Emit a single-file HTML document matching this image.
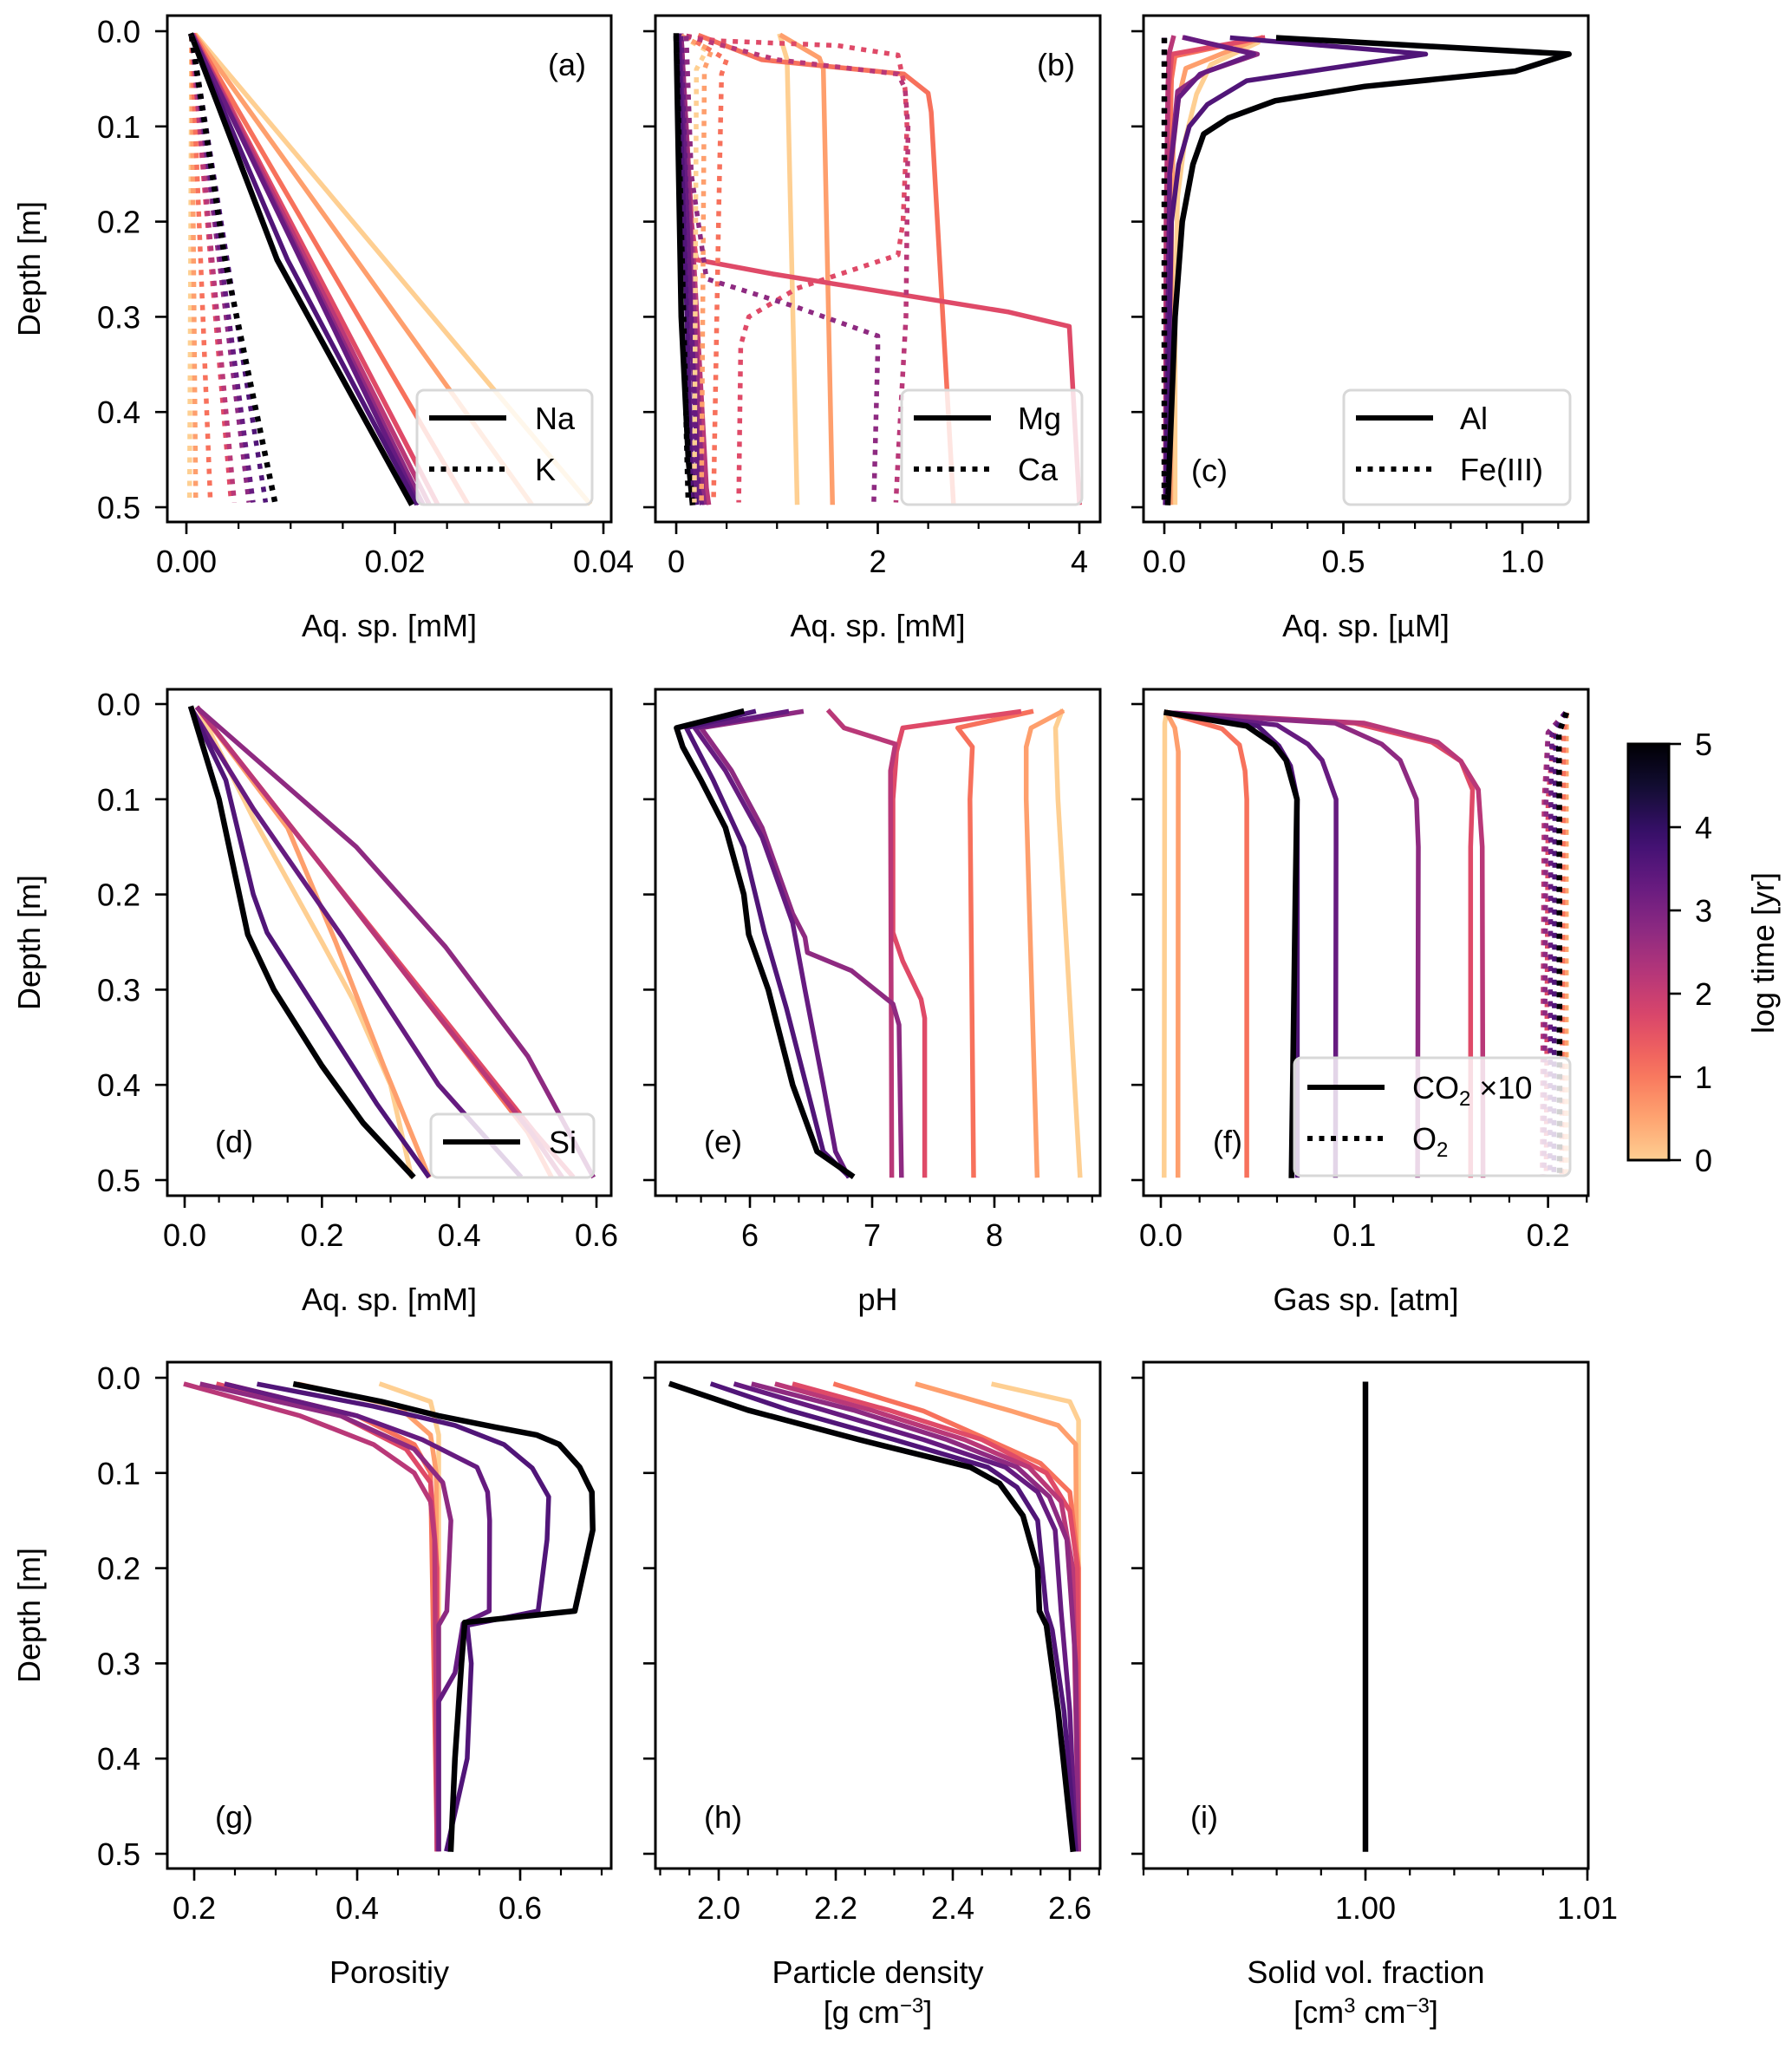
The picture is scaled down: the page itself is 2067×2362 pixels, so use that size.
<!DOCTYPE html>
<html><head><meta charset="utf-8"><style>
html,body{margin:0;padding:0;background:#fff}
svg{display:block;font-family:"Liberation Sans",Arial,sans-serif}
</style></head><body>
<svg id="fig" width="2067" height="2362" viewBox="0 0 2067 2362" xmlns="http://www.w3.org/2000/svg"></svg>
<script>
// ---------- data ----------
const logTimes = [0, 0.55, 1.1, 1.65, 2.2, 2.75, 3.3, 3.6, 5];
// each curve: list of [depth, value]
const naSeries = [
 [[0.005,0.0010],[0.495,0.0386]],
 [[0.005,0.0009],[0.495,0.0330]],
 [[0.005,0.0008],[0.495,0.0269]],
 [[0.005,0.0007],[0.495,0.0240]],
 [[0.005,0.0007],[0.495,0.0232]],
 [[0.005,0.0006],[0.495,0.0226]],
 [[0.005,0.0006],[0.495,0.0222]],
 [[0.005,0.0005],[0.24,0.0097],[0.495,0.0220]],
 [[0.005,0.0005],[0.24,0.0087],[0.495,0.0215]]
];
const kSeries = [
 [[0.005,0.0005],[0.495,0.0003]],
 [[0.005,0.0005],[0.495,0.0009]],
 [[0.005,0.0005],[0.495,0.0023]],
 [[0.005,0.0005],[0.495,0.0043]],
 [[0.005,0.0005],[0.495,0.0046]],
 [[0.005,0.0005],[0.495,0.0060]],
 [[0.005,0.0005],[0.495,0.0064]],
 [[0.005,0.0005],[0.495,0.0076]],
 [[0.005,0.0005],[0.24,0.0037],[0.495,0.0085]]
];
const mgSeries = [
 [[0.005,1.03],[0.03,1.1],[0.495,1.2]],
 [[0.005,1.05],[0.028,1.42],[0.04,1.46],[0.495,1.55]],
 [[0.005,0.24],[0.03,0.85],[0.045,2.26],[0.065,2.5],[0.085,2.53],[0.495,2.75]],
 [[0.005,0.05],[0.2,0.15],[0.24,0.2],[0.255,0.96],[0.295,3.3],[0.31,3.9],[0.495,4.0]],
 [[0.005,0.05],[0.48,0.3],[0.495,0.32]],
 [[0.005,0.05],[0.48,0.26],[0.495,0.28]],
 [[0.005,0.03],[0.48,0.22],[0.495,0.25]],
 [[0.005,0.02],[0.45,0.15],[0.495,0.2]],
 [[0.005,0.0],[0.3,0.05],[0.45,0.12],[0.495,0.16]]
];
const caSeries = [
 [[0.005,0.05],[0.02,0.3],[0.04,0.2],[0.495,0.18]],
 [[0.005,0.05],[0.02,0.35],[0.04,0.28],[0.495,0.25]],
 [[0.005,0.1],[0.03,0.5],[0.045,0.45],[0.2,0.42],[0.495,0.37]],
 [[0.005,0.1],[0.01,0.4],[0.015,1.6],[0.025,2.2],[0.06,2.27],[0.1,2.29],[0.2,2.25],[0.235,2.2],[0.27,1.2],[0.3,0.72],[0.33,0.64],[0.495,0.62]],
 [[0.005,0.1],[0.03,1.0],[0.045,2.2],[0.06,2.27],[0.1,2.3],[0.3,2.28],[0.45,2.2],[0.495,2.18]],
 [[0.005,0.1],[0.15,0.15],[0.26,0.3],[0.29,1.2],[0.32,2.0],[0.335,2.0],[0.495,1.96]],
 [[0.005,0.05],[0.495,0.2]],
 [[0.005,0.02],[0.495,0.15]],
 [[0.005,0.0],[0.495,0.12]]
];
const alSeries = [
 [[0.012,0.26],[0.035,0.13],[0.066,0.09],[0.116,0.057],[0.174,0.037],[0.3,0.03],[0.495,0.03]],
 [[0.007,0.27],[0.039,0.06],[0.07,0.04],[0.12,0.025],[0.2,0.02],[0.495,0.018]],
 [[0.007,0.27],[0.026,0.03],[0.05,0.02],[0.2,0.01],[0.495,0.01]],
 [[0.007,0.275],[0.024,0.021],[0.06,0.012],[0.2,0.005],[0.495,0.004]],
 [[0.007,0.025],[0.024,0.013],[0.06,0.01],[0.2,0.005],[0.495,0.003]],
 [[0.007,0.057],[0.024,0.26],[0.043,0.114],[0.063,0.037],[0.15,0.015],[0.495,0.003]],
 [[0.007,0.06],[0.024,0.25],[0.045,0.1],[0.07,0.04],[0.15,0.015],[0.495,0.003]],
 [[0.007,0.19],[0.024,0.73],[0.052,0.23],[0.077,0.12],[0.1,0.07],[0.14,0.04],[0.2,0.02],[0.495,0.005]],
 [[0.007,0.32],[0.024,1.13],[0.042,0.98],[0.058,0.56],[0.073,0.31],[0.091,0.18],[0.108,0.11],[0.14,0.08],[0.2,0.05],[0.3,0.03],[0.495,0.01]]
];
const feSeries = [
 [[0.007,0.0],[0.495,0.0]],[[0.007,0.0],[0.495,0.0]],[[0.007,0.0],[0.495,0.0]],
 [[0.007,0.0],[0.495,0.0]],[[0.007,0.0],[0.495,0.0]],[[0.007,0.0],[0.495,0.0]],
 [[0.007,0.0],[0.495,0.0]],[[0.007,0.0],[0.495,0.0]],[[0.007,0.0],[0.495,0.0]]
];
const siSeries = [
 [[0.005,0.02],[0.12,0.1],[0.25,0.2],[0.31,0.245],[0.4,0.3],[0.495,0.33]],
 [[0.005,0.02],[0.13,0.15],[0.25,0.22],[0.38,0.29],[0.495,0.355]],
 [[0.005,0.02],[0.17,0.2],[0.31,0.35],[0.45,0.5],[0.495,0.533]],
 [[0.005,0.02],[0.17,0.2],[0.31,0.355],[0.45,0.51],[0.495,0.564]],
 [[0.005,0.02],[0.17,0.2],[0.31,0.35],[0.45,0.505],[0.495,0.548]],
 [[0.005,0.02],[0.15,0.25],[0.255,0.38],[0.37,0.5],[0.495,0.594]],
 [[0.005,0.01],[0.11,0.1],[0.245,0.23],[0.4,0.37],[0.495,0.488]],
 [[0.005,0.01],[0.08,0.06],[0.2,0.1],[0.24,0.12],[0.33,0.2],[0.42,0.28],[0.495,0.354]],
 [[0.005,0.01],[0.1,0.05],[0.242,0.092],[0.3,0.13],[0.38,0.2],[0.44,0.26],[0.495,0.331]]
];
const phSeries = [
 [[0.008,8.55],[0.025,8.5],[0.1,8.52],[0.495,8.7]],
 [[0.008,8.55],[0.025,8.3],[0.045,8.26],[0.1,8.26],[0.495,8.35]],
 [[0.008,8.3],[0.025,7.7],[0.045,7.82],[0.1,7.8],[0.495,7.83]],
 [[0.008,8.2],[0.025,7.25],[0.05,7.2],[0.1,7.17],[0.24,7.17],[0.27,7.25],[0.31,7.4],[0.33,7.43],[0.495,7.43]],
 [[0.008,6.65],[0.025,6.77],[0.042,7.19],[0.07,7.15],[0.1,7.15],[0.495,7.16]],
 [[0.008,6.42],[0.025,5.6],[0.07,5.85],[0.13,6.1],[0.22,6.35],[0.245,6.45],[0.261,6.47],[0.28,6.83],[0.315,7.17],[0.337,7.22],[0.495,7.24]],
 [[0.008,6.3],[0.025,5.55],[0.07,5.8],[0.14,6.1],[0.23,6.35],[0.3,6.45],[0.4,6.6],[0.47,6.7],[0.495,6.8]],
 [[0.008,6.03],[0.025,5.48],[0.08,5.7],[0.15,5.95],[0.24,6.12],[0.32,6.3],[0.47,6.6],[0.495,6.8]],
 [[0.008,5.93],[0.025,5.4],[0.045,5.45],[0.08,5.6],[0.13,5.8],[0.2,5.95],[0.242,5.99],[0.3,6.15],[0.4,6.35],[0.47,6.55],[0.495,6.83]]
];
const co2Series = [
 [[0.009,0.003],[0.02,0.002],[0.495,0.0017]],
 [[0.009,0.003],[0.025,0.0072],[0.05,0.009],[0.495,0.0088]],
 [[0.009,0.003],[0.026,0.0316],[0.043,0.0406],[0.07,0.0435],[0.1,0.0444],[0.495,0.0444]],
 [[0.009,0.003],[0.02,0.1],[0.04,0.14],[0.06,0.155],[0.09,0.161],[0.15,0.16],[0.495,0.160]],
 [[0.009,0.003],[0.02,0.105],[0.04,0.143],[0.06,0.155],[0.09,0.164],[0.15,0.166],[0.495,0.1664]],
 [[0.009,0.003],[0.02,0.09],[0.042,0.114],[0.059,0.1236],[0.1,0.132],[0.15,0.133],[0.495,0.1326]],
 [[0.009,0.003],[0.022,0.06],[0.042,0.0759],[0.059,0.0833],[0.1,0.0905],[0.15,0.0905],[0.495,0.0902]],
 [[0.009,0.003],[0.023,0.05],[0.044,0.061],[0.065,0.067],[0.1,0.0705],[0.495,0.0705]],
 [[0.009,0.003],[0.023,0.0444],[0.043,0.0586],[0.059,0.0647],[0.1,0.0703],[0.2,0.0695],[0.495,0.0675]]
];
const o2Series = [
 [[0.009,0.2096],[0.495,0.2096]],
 [[0.009,0.2096],[0.03,0.2093],[0.495,0.2090]],
 [[0.009,0.2096],[0.03,0.208],[0.495,0.207]],
 [[0.009,0.209],[0.03,0.203],[0.1,0.2],[0.495,0.199]],
 [[0.009,0.209],[0.03,0.2],[0.1,0.198],[0.495,0.197]],
 [[0.009,0.209],[0.03,0.2],[0.1,0.199],[0.495,0.198]],
 [[0.009,0.209],[0.03,0.202],[0.1,0.2015],[0.495,0.201]],
 [[0.009,0.209],[0.03,0.204],[0.1,0.2035],[0.495,0.203]],
 [[0.009,0.2096],[0.03,0.2056],[0.1,0.2058],[0.495,0.2060]]
];
const porSeries = [
 [[0.007,0.43],[0.025,0.49],[0.06,0.5],[0.495,0.5]],
 [[0.007,0.33],[0.03,0.45],[0.06,0.49],[0.1,0.497],[0.495,0.498]],
 [[0.007,0.24],[0.04,0.4],[0.07,0.47],[0.1,0.49],[0.495,0.498]],
 [[0.007,0.23],[0.04,0.38],[0.075,0.46],[0.11,0.49],[0.2,0.498],[0.495,0.498]],
 [[0.007,0.19],[0.04,0.33],[0.07,0.42],[0.1,0.47],[0.13,0.49],[0.17,0.495],[0.495,0.498]],
 [[0.007,0.21],[0.04,0.38],[0.075,0.47],[0.11,0.505],[0.15,0.515],[0.245,0.51],[0.26,0.5],[0.495,0.5]],
 [[0.007,0.24],[0.04,0.4],[0.065,0.48],[0.094,0.547],[0.12,0.56],[0.15,0.5626],[0.245,0.562],[0.258,0.53],[0.31,0.52],[0.34,0.5],[0.495,0.5]],
 [[0.007,0.28],[0.03,0.42],[0.05,0.52],[0.07,0.58],[0.095,0.615],[0.125,0.635],[0.17,0.633],[0.245,0.622],[0.26,0.535],[0.3,0.54],[0.4,0.535],[0.495,0.51]],
 [[0.007,0.325],[0.025,0.43],[0.04,0.5],[0.052,0.57],[0.06,0.62],[0.07,0.648],[0.094,0.673],[0.12,0.688],[0.16,0.689],[0.245,0.667],[0.257,0.532],[0.3,0.528],[0.4,0.52],[0.495,0.515]]
];
const rhoSeries = [
 [[0.007,2.47],[0.025,2.6],[0.045,2.615],[0.495,2.615]],
 [[0.007,2.34],[0.035,2.5],[0.05,2.58],[0.07,2.61],[0.495,2.615]],
 [[0.007,2.2],[0.035,2.35],[0.065,2.46],[0.09,2.55],[0.12,2.6],[0.2,2.615],[0.495,2.615]],
 [[0.007,2.13],[0.034,2.29],[0.065,2.45],[0.1,2.56],[0.14,2.6],[0.2,2.613],[0.495,2.615]],
 [[0.007,2.1],[0.034,2.26],[0.065,2.42],[0.094,2.53],[0.13,2.585],[0.2,2.605],[0.495,2.615]],
 [[0.007,2.06],[0.034,2.23],[0.065,2.39],[0.094,2.51],[0.125,2.565],[0.17,2.595],[0.3,2.61],[0.495,2.615]],
 [[0.007,2.03],[0.034,2.18],[0.065,2.35],[0.094,2.49],[0.12,2.545],[0.16,2.575],[0.245,2.585],[0.35,2.6],[0.495,2.61]],
 [[0.007,1.99],[0.034,2.12],[0.065,2.3],[0.094,2.46],[0.115,2.51],[0.15,2.545],[0.245,2.56],[0.265,2.57],[0.35,2.59],[0.495,2.61]],
 [[0.007,1.92],[0.034,2.05],[0.065,2.24],[0.094,2.43],[0.111,2.48],[0.145,2.52],[0.2,2.545],[0.245,2.548],[0.26,2.56],[0.35,2.58],[0.495,2.605]]
];
const solidSeries = [[[0.007,1.0],[0.495,1.0]]];
const depthTicks = [0,0.1,0.2,0.3,0.4,0.5];
const depthTickLabels = ["0.0","0.1","0.2","0.3","0.4","0.5"];
const cbarTicks = [0,1,2,3,4,5];

// ---------- layout ----------
const NS="http://www.w3.org/2000/svg";
const svg=document.getElementById('fig');
function el(tag,attrs,parent){const e=document.createElementNS(NS,tag);for(const k in attrs)e.setAttribute(k,attrs[k]);(parent||svg).appendChild(e);return e;}
const magmaStops=[[0,'#000004'],[0.1,'#140e36'],[0.2,'#3b0f70'],[0.3,'#641a80'],[0.4,'#8c2981'],[0.5,'#b73779'],[0.6,'#de4968'],[0.7,'#f7705c'],[0.8,'#fe9f6d'],[0.9,'#fecf92'],[1,'#fcfdbf']];
function hex(h){return [parseInt(h.substr(1,2),16),parseInt(h.substr(3,2),16),parseInt(h.substr(5,2),16)];}
function magma(v){v=Math.max(0,Math.min(1,v));for(let i=0;i<magmaStops.length-1;i++){const a=magmaStops[i],b=magmaStops[i+1];if(v<=b[0]){const f=(v-a[0])/(b[0]-a[0]);const ca=hex(a[1]),cb=hex(b[1]);return 'rgb('+ca.map((c,j)=>Math.round(c+(cb[j]-c)*f)).join(',')+')';}}return '#fcfdbf';}
function tColor(t){return magma(0.9*(1-t/5));}

const colsX=[[193,705],[756,1269],[1319,1832]];
const rowsY=[[18,602],[795,1379],[1571,2155]];
const rowD0=[36,812,1589];
const DPX=1098;
function range(a,b,s){const r=[];for(let v=a;v<=b+s*1e-6;v+=s)r.push(+v.toFixed(6));return r;}

const panels=[
 {id:'a',r:0,c:0,x0:215,v0:0,k:12025,major:[0,0.02,0.04],labels:["0.00","0.02","0.04"],minor:range(0,0.04,0.005),xlabel:["Aq. sp. [mM]"],tag:[654,75],
  series:[{d:naSeries,dot:false},{d:kSeries,dot:true}],legend:{x:481,y:450,w:202,h:132,ent:[["Na",false],["K",true]],lx:495,tx:617}},
 {id:'b',r:0,c:1,x0:780,v0:0,k:116.25,major:[0,2,4],labels:["0","2","4"],minor:range(0,4,0.5),xlabel:["Aq. sp. [mM]"],tag:[1218,75],
  series:[{d:mgSeries,dot:false},{d:caSeries,dot:true}],legend:{x:1040,y:450,w:208,h:132,ent:[["Mg",false],["Ca",true]],lx:1054,tx:1174}},
 {id:'c',r:0,c:2,x0:1343,v0:0,k:413,major:[0,0.5,1.0],labels:["0.0","0.5","1.0"],minor:range(0,1.1,0.1),xlabel:["Aq. sp. [\u00b5M]"],tag:[1395,543],
  series:[{d:alSeries,dot:false},{d:feSeries,dot:true}],legend:{x:1550,y:450,w:261,h:132,ent:[["Al",false],["Fe(III)",true]],lx:1564,tx:1684}},
 {id:'d',r:1,c:0,x0:213,v0:0,k:791.7,major:[0,0.2,0.4,0.6],labels:["0.0","0.2","0.4","0.6"],minor:range(0,0.6,0.05),xlabel:["Aq. sp. [mM]"],tag:[270,1317],
  series:[{d:siSeries,dot:false}],legend:{x:497,y:1285,w:188,h:73,ent:[["Si",false]],lx:511,tx:633,ly0:1317}},
 {id:'e',r:1,c:1,x0:865,v0:6,k:141,major:[6,7,8],labels:["6","7","8"],minor:range(5.4,8.8,0.2),xlabel:["pH"],tag:[834,1317],
  series:[{d:phSeries,dot:false}]},
 {id:'f',r:1,c:2,x0:1339,v0:0,k:2233,major:[0,0.1,0.2],labels:["0.0","0.1","0.2"],minor:range(0,0.22,0.02),xlabel:["Gas sp. [atm]"],tag:[1416,1317],
  series:[{d:co2Series,dot:false},{d:o2Series,dot:true}],legend:{x:1493,y:1220,w:318,h:136,ent:[["CO<tspan font-size='24' dy='8'>2</tspan><tspan dy='-8'> \u00d710</tspan>",false],["O<tspan font-size='24' dy='8'>2</tspan>",true]],lx:1508,tx:1629,ly0:1254}},
 {id:'g',r:2,c:0,x0:224,v0:0.2,k:940,major:[0.2,0.4,0.6],labels:["0.2","0.4","0.6"],minor:range(0.2,0.7,0.05),xlabel:["Porositiy"],tag:[270,2096],
  series:[{d:porSeries,dot:false}]},
 {id:'h',r:2,c:1,x0:829,v0:2,k:675,major:[2.0,2.2,2.4,2.6],labels:["2.0","2.2","2.4","2.6"],minor:range(1.9,2.65,0.05),xlabel:["Particle density","[g cm<tspan font-size='24' dy='-12'>\u22123</tspan><tspan dy='12'>]</tspan>"],tag:[834,2096],
  series:[{d:rhoSeries,dot:false}]},
 {id:'i',r:2,c:2,x0:1575,v0:1,k:25600,major:[1.00,1.01],labels:["1.00","1.01"],minor:range(0.99,1.01,0.002),xlabel:["Solid vol. fraction","[cm<tspan font-size='24' dy='-12'>3</tspan><tspan dy='12'> cm</tspan><tspan font-size='24' dy='-12'>\u22123</tspan><tspan dy='12'>]</tspan>"],tag:[1389,2096],
  series:[{d:solidSeries,dot:false,black:true}]}
];

panels.forEach(p=>{
  const [L,R]=colsX[p.c],[T,B]=rowsY[p.r];
  const sx=v=>p.x0+(v-p.v0)*p.k;
  const sy=d=>rowD0[p.r]+d*DPX;
  const g=el('g',{});
  
  
  const cid='clip-'+p.id;
  const cp=el('clipPath',{id:cid},g);el('rect',{x:L,y:T,width:R-L,height:B-T},cp);
  const plot=el('g',{'clip-path':'url(#'+cid+')'},g);
  p.series.forEach((s,si)=>{
    s.d.forEach((curve,i)=>{
      const t=s.black?5:logTimes[i];
      const pts=curve.map(q=>sx(q[1]).toFixed(1)+','+sy(q[0]).toFixed(1)).join(' ');
      const isBlack=(t===5);
      const pl=el('polyline',{points:pts,fill:'none',stroke:tColor(t),'stroke-width':isBlack?6.5:5.5,'stroke-linejoin':'round','stroke-linecap':s.dot?'butt':'square'},plot);
      if(s.dot)pl.setAttribute('stroke-dasharray','6 7.5');
      
      
    });
  });
  const fr=el('rect',{x:L,y:T,width:R-L,height:B-T,fill:'none',stroke:'#000','stroke-width':3},g);
  
  
  depthTicks.forEach((d,j)=>{
    el('line',{x1:L-14,x2:L,y1:sy(d),y2:sy(d),stroke:'#000','stroke-width':2.6},g);
    if(p.c===0){const tx=el('text',{x:L-31,y:sy(d)+13,'font-size':36,'text-anchor':'end'},g);tx.textContent=depthTickLabels[j];
      }
  });
  p.minor.forEach(v=>{const x=sx(v);if(x<L-1||x>R+1)return;el('line',{x1:x,x2:x,y1:B,y2:B+8,stroke:'#000','stroke-width':2.2},g);});
  p.major.forEach((v,j)=>{const x=sx(v);el('line',{x1:x,x2:x,y1:B,y2:B+14,stroke:'#000','stroke-width':2.6},g);
    const tx=el('text',{x:x,y:B+58,'font-size':36,'text-anchor':'middle'},g);tx.textContent=p.labels[j];
    });
  p.xlabel.forEach((s,j)=>{const tx=el('text',{x:(L+R)/2,y:B+132+j*46,'font-size':36,'text-anchor':'middle'},g);tx.innerHTML=s;
    });
  if(p.c===0){const cy=(T+B)/2;const tx=el('text',{x:46,y:cy,'font-size':36,'text-anchor':'middle',transform:'rotate(-90 46 '+cy+')'},g);tx.textContent='Depth [m]';
    }
  const tg=el('text',{x:p.tag[0],y:p.tag[1]+12,'font-size':36,'text-anchor':'middle'},g);tg.textContent='('+p.id+')';
  
  if(p.legend){const lg=p.legend;const lgG=el('g',{},g);
    
    el('rect',{x:lg.x,y:lg.y,width:lg.w,height:lg.h,rx:8,fill:'rgba(255,255,255,0.82)',stroke:'#d8d8d8','stroke-width':3},lgG);
    const y0=lg.ly0||lg.y+32;
    lg.ent.forEach((e,j)=>{const y=y0+j*(lg.ent.length>1?(lg.h>100?59:63):0);
      const ln=el('line',{x1:lg.lx,x2:lg.lx+89,y1:y,y2:y,stroke:'#000','stroke-width':6},lgG);
      if(e[1])ln.setAttribute('stroke-dasharray','6 7.5');
      
      const tx=el('text',{x:lg.tx,y:y+13,'font-size':36},lgG);tx.innerHTML=e[0];
      });
  }
});
(function(){
  const L=1878,R=1925,T=858,B=1338;
  const g=el('g',{});
  const defs=el('defs',{},g);const lgd=el('linearGradient',{id:'cbg',x1:0,y1:1,x2:0,y2:0},defs);
  for(let i=0;i<=20;i++){const t=5*i/20;el('stop',{offset:(i/20),'stop-color':tColor(t)},lgd);}
  el('rect',{x:L,y:T,width:R-L,height:B-T,fill:'url(#cbg)',stroke:'#000','stroke-width':3},g);
  cbarTicks.forEach(t=>{const y=B-(B-T)*t/5;el('line',{x1:R,x2:R+14,y1:y,y2:y,stroke:'#000','stroke-width':2.6},g);
    const tx=el('text',{x:R+30,y:y+13,'font-size':36},g);tx.textContent=String(t);
    });
  const tx=el('text',{x:2046,y:1099,'font-size':36,'text-anchor':'middle',transform:'rotate(-90 2046 1099)'},g);tx.textContent='log time [yr]';
  
})();
</script>
</body></html>
